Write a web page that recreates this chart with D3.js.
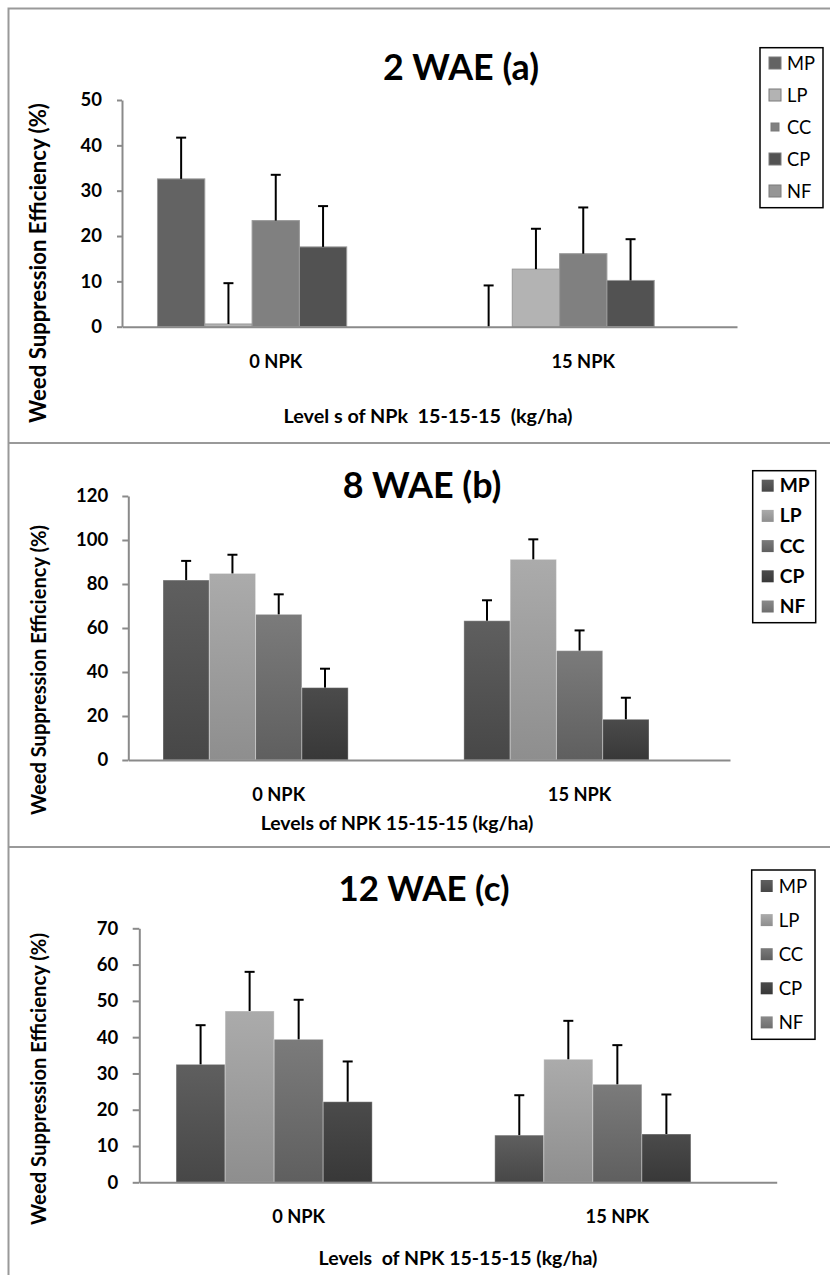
<!DOCTYPE html>
<html>
<head>
<meta charset="utf-8">
<script src="https://cdn.jsdelivr.net/npm/d3@7"></script>
<style>
  body { margin: 0; background: #fff; }
  text { font-family: Lato, "Open Sans", sans-serif; fill: #000; }
</style>
</head>
<body>
<script>
// treatments and NPK levels
const seriesNames = ["MP", "LP", "CC", "CP", "NF"];
const npkLevels = ["0 NPK", "15 NPK"];

// 2 WAE (a)  -- rows are NPK levels, columns follow seriesNames (NF has no bar)
const wae2Mean = [[32.6, 0.6, 23.4, 17.6, null], [0, 12.7, 16.1, 10.2, null]];
const wae2Err = [[9.1, 9.0, 10.1, 9.0, null], [9.1, 8.9, 10.2, 9.1, null]];
const wae2Ticks = [0, 10, 20, 30, 40, 50];

// 8 WAE (b)
const wae8Mean = [[81.8, 84.8, 66.2, 32.9, null], [63.3, 91.2, 49.7, 18.5, null]];
const wae8Err = [[8.7, 8.5, 9.1, 8.6, null], [9.3, 9.1, 9.2, 9.8, null]];
const wae8Ticks = [0, 20, 40, 60, 80, 100, 120];

// 12 WAE (c)
const wae12Mean = [[32.5, 47.2, 39.4, 22.2, null], [13.0, 33.9, 27.0, 13.3, null]];
const wae12Err = [[10.8, 10.8, 10.9, 11.1, null], [11.0, 10.6, 10.8, 10.9, null]];
const wae12Ticks = [0, 10, 20, 30, 40, 50, 60, 70];

// colours
const flatColors = ["#636363", "#b3b3b3", "#808080", "#525252", "#969696"];
const gradTop = ["#5f5f5f", "#ababab", "#7b7b7b", "#4b4b4b", "#8a8a8a"];
const gradBottom = ["#474747", "#8e8e8e", "#5f5f5f", "#383838", "#6e6e6e"];

const W = 830, H = 1275;
const svg = d3.select("body").append("svg").attr("width", W).attr("height", H);

// scale a text's font size so that it spans the given width
function fitWidth(sel, target) {
  const w = sel.node().getComputedTextLength();
  const fs = +sel.attr("font-size");
  if (w > 0) sel.attr("font-size", (fs * target / w).toFixed(2));
  return sel;
}

// gradients for panels b and c
const defs = svg.append("defs");
seriesNames.forEach((s, i) => {
  const g = defs.append("linearGradient").attr("id", "grad-" + s)
    .attr("x1", 0).attr("y1", 0).attr("x2", 0).attr("y2", 1);
  g.append("stop").attr("offset", "0%").attr("stop-color", gradTop[i]);
  g.append("stop").attr("offset", "100%").attr("stop-color", gradBottom[i]);
});

// outer frame and separators
svg.append("path").attr("d", "M8.5," + H + "V8.5H" + W)
  .attr("fill", "none").attr("stroke", "#999").attr("stroke-width", 2);
[443, 847].forEach(y => {
  svg.append("line").attr("x1", 8).attr("x2", W).attr("y1", y).attr("y2", y)
    .attr("stroke", "#999").attr("stroke-width", 2);
});

const panels = [
  { title: "2 WAE (a)", mean: wae2Mean, err: wae2Err, ticks: wae2Ticks,
    ax0: 122, ax1: 737, yBase: 326.7, yTop: 100, tickLen: 5, tickPad: 15,
    titleX: 461, titleY: 80, titleW: 156, gradient: false, catY: 368,
    xTitle: "Level s of NPk  15-15-15  (kg/ha)", xTitleX: 428, xTitleY: 423, xTitleW: 289,
    yTitleY: 263, yTitleW: 320,
    legend: { x: 760, y: 47.7, w: 63, h: 160, row0: 63, step: 32, bold: false, small: "CC", textW: 28 } },
  { title: "8 WAE (b)", mean: wae8Mean, err: wae8Err, ticks: wae8Ticks,
    ax0: 128.3, ax1: 730, yBase: 760, yTop: 496, tickLen: 6, tickPad: 14,
    titleX: 422, titleY: 498, titleW: 158.7, gradient: true, catY: 801,
    xTitle: "Levels of NPK 15-15-15 (kg/ha)", xTitleX: 397, xTitleY: 830, xTitleW: 273,
    yTitleY: 670, yTitleW: 290,
    legend: { x: 752.7, y: 470.7, w: 63, h: 152, row0: 485.7, step: 30.2, bold: true, small: null, textW: 30 } },
  { title: "12 WAE (c)", mean: wae12Mean, err: wae12Err, ticks: wae12Ticks,
    ax0: 139.3, ax1: 776.7, yBase: 1182.3, yTop: 928.3, tickLen: 6.6, tickPad: 14.4,
    titleX: 424, titleY: 901, titleW: 171, gradient: true, catY: 1223,
    xTitle: "Levels  of NPK 15-15-15 (kg/ha)", xTitleX: 458, xTitleY: 1265, xTitleW: 279,
    yTitleY: 1079, yTitleW: 292,
    legend: { x: 751.7, y: 870, w: 63.3, h: 169.3, row0: 886, step: 34.1, bold: false, small: null, textW: 28.4 } }
];

panels.forEach(drawPanel);

function drawPanel(p) {
  const g = svg.append("g");

  const x0 = d3.scaleBand().domain(npkLevels).range([p.ax0, p.ax1]);
  const x1 = d3.scaleBand().domain(seriesNames).range([0, x0.bandwidth()])
    .paddingInner(0).paddingOuter(0.75);
  const y = d3.scaleLinear().domain([0, d3.max(p.ticks)]).range([p.yBase, p.yTop]);

  // title
  const t = g.append("text").attr("x", p.titleX).attr("y", p.titleY)
    .attr("text-anchor", "middle").attr("font-size", 32).attr("font-weight", 700)
    .text(p.title);
  fitWidth(t, p.titleW);

  // bars
  const groups = g.selectAll("g.grp").data(npkLevels).enter().append("g")
    .attr("transform", d => "translate(" + x0(d) + ",0)");

  const cells = groups.selectAll("g.cell")
    .data((d, i) => seriesNames.map((s, j) => ({ s: s, j: j, v: p.mean[i][j], e: p.err[i][j] })))
    .enter().append("g").filter(d => d.v != null);

  cells.filter(d => d.v > 0).append("rect")
    .attr("x", d => x1(d.s))
    .attr("y", d => y(d.v))
    .attr("width", x1.bandwidth())
    .attr("height", d => y(0) - y(d.v))
    .attr("fill", d => p.gradient ? "url(#grad-" + d.s + ")" : flatColors[d.j])
    .attr("stroke", p.gradient ? "rgba(255,255,255,0.35)" : "#9a9a9a")
    .attr("stroke-width", 1);

  // error bars
  cells.append("line")
    .attr("x1", d => x1(d.s) + x1.bandwidth() / 2)
    .attr("x2", d => x1(d.s) + x1.bandwidth() / 2)
    .attr("y1", d => y(d.v))
    .attr("y2", d => y(d.v + d.e))
    .attr("stroke", "#000").attr("stroke-width", 2);
  cells.append("line")
    .attr("x1", d => x1(d.s) + x1.bandwidth() / 2 - 5)
    .attr("x2", d => x1(d.s) + x1.bandwidth() / 2 + 5)
    .attr("y1", d => y(d.v + d.e))
    .attr("y2", d => y(d.v + d.e))
    .attr("stroke", "#000").attr("stroke-width", 2);

  // y axis
  const yAxis = d3.axisLeft(y).tickValues(p.ticks).tickSize(p.tickLen)
    .tickSizeOuter(0).tickPadding(p.tickPad).tickFormat(d3.format("d"));
  const ya = g.append("g").attr("transform", "translate(" + p.ax0 + ",0)").call(yAxis);
  ya.select(".domain").attr("stroke", "#8a8a8a").attr("stroke-width", 2);
  ya.selectAll(".tick line").attr("stroke", "#8a8a8a").attr("stroke-width", 2);
  ya.selectAll(".tick text").attr("font-size", 18.5).attr("font-weight", 700)
    .attr("font-family", "Lato").attr("fill", "#000");

  // x axis
  const xAxis = d3.axisBottom(x0).tickSize(0).tickSizeOuter(0);
  const xa = g.append("g").attr("transform", "translate(0," + p.yBase + ")").call(xAxis);
  xa.select(".domain").attr("stroke", "#8a8a8a").attr("stroke-width", 2);
  const cat = xa.selectAll(".tick text").attr("dy", null).attr("y", p.catY - p.yBase)
    .attr("font-size", 18).attr("font-weight", 700)
    .attr("font-family", "Lato").attr("fill", "#000");
  fitWidth(d3.select(cat.nodes()[0]), 53);
  cat.attr("font-size", d3.select(cat.nodes()[0]).attr("font-size"));

  // axis titles
  const xt = g.append("text").attr("x", p.xTitleX).attr("y", p.xTitleY)
    .attr("text-anchor", "middle").attr("font-size", 16).attr("font-weight", 700)
    .style("white-space", "pre").text(p.xTitle);
  fitWidth(xt, p.xTitleW);
  const yt = g.append("text").attr("transform", "translate(46," + p.yTitleY + ") rotate(-90)")
    .attr("text-anchor", "middle").attr("font-size", 18).attr("font-weight", 700)
    .text("Weed Suppression Efficiency (%)");
  fitWidth(yt, p.yTitleW);

  // legend
  const L = p.legend;
  g.append("rect").attr("x", L.x).attr("y", L.y).attr("width", L.w).attr("height", L.h)
    .attr("fill", "#fff").attr("stroke", "#000").attr("stroke-width", 1.5);
  const items = g.selectAll("g.leg").data(seriesNames).enter().append("g")
    .attr("transform", (d, i) => "translate(" + (L.x + 9) + "," + (L.row0 + i * L.step) + ")");
  items.append("rect")
    .attr("x", d => d === L.small ? 2 : 0)
    .attr("y", d => d === L.small ? -4 : -6)
    .attr("width", d => d === L.small ? 8 : 12)
    .attr("height", d => d === L.small ? 8 : 12)
    .attr("fill", (d, i) => p.gradient ? "url(#grad-" + d + ")" : flatColors[i])
    .attr("stroke", p.gradient ? "none" : "#7a7a7a").attr("stroke-width", 1);
  const lt = items.append("text").attr("x", 18).attr("y", 6.5)
    .attr("font-size", 18).attr("font-weight", L.bold ? 700 : 400)
    .text(d => d);
  fitWidth(d3.select(lt.nodes()[0]), L.textW);
  lt.attr("font-size", d3.select(lt.nodes()[0]).attr("font-size"));
}
</script>
</body>
</html>
